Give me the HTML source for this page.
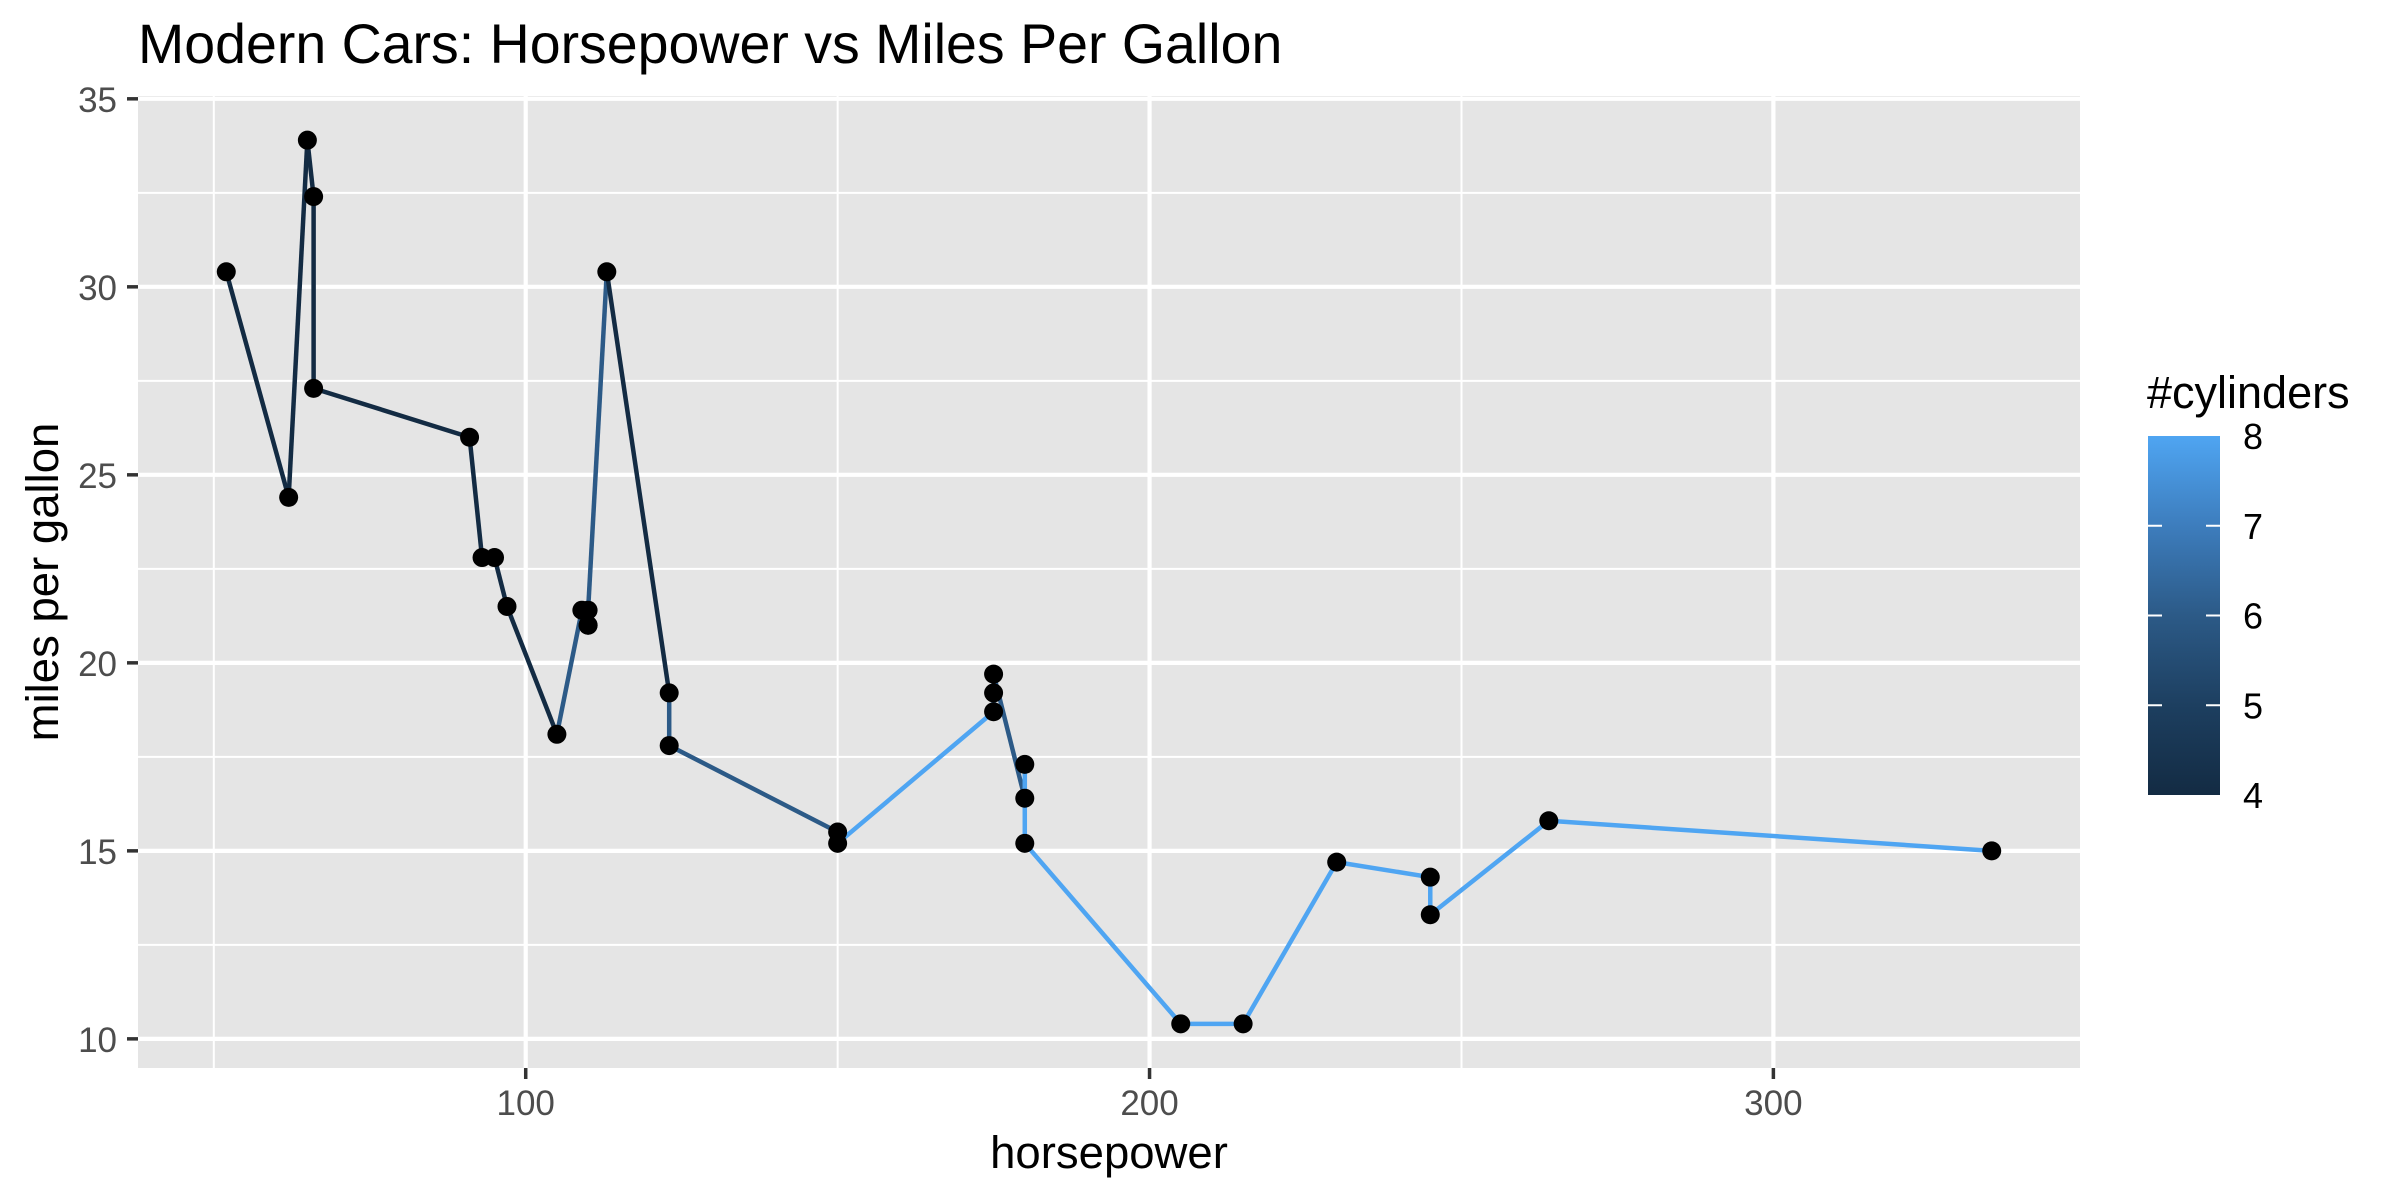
<!DOCTYPE html>
<html><head><meta charset="utf-8"><style>
body{margin:0;background:#fff;}
svg{display:block;font-family:"Liberation Sans",Arial,sans-serif;}
</style></head><body>
<svg id="chart" width="2400" height="1200" viewBox="0 0 2400 1200">
<text x="138" y="63" font-size="55.5" fill="#000">Modern Cars: Horsepower vs Miles Per Gallon</text>
<rect x="138" y="96" width="1942" height="972" fill="#e5e5e5"/>
<g id="grid"></g><g id="axes"></g><g id="lines"></g><g id="points"></g>
<text x="1109" y="1168" font-size="45.5" text-anchor="middle" fill="#000">horsepower</text>
<text transform="translate(58,582) rotate(-90)" font-size="45.5" text-anchor="middle" fill="#000">miles per gallon</text>
<defs><linearGradient id="lg" x1="0" y1="1" x2="0" y2="0">
<stop offset="0" stop-color="#132B43"/><stop offset="0.25" stop-color="#1d3f60"/><stop offset="0.5" stop-color="#2c5a87"/><stop offset="0.75" stop-color="#3d7dbd"/><stop offset="1" stop-color="#4fa5f2"/></linearGradient></defs>
<g>
<text x="2147" y="408" font-size="45" fill="#000">#cylinders</text>
<rect x="2148" y="436" width="72" height="359" fill="url(#lg)"/>
<g id="legend-ticks"></g>
</g>
</svg>
<script>
const hp=[110,110,93,110,175,105,245,62,95,123,123,180,180,180,205,215,230,66,52,65,97,150,150,245,175,66,91,113,264,175,335,109];
const mpg=[21.0,21.0,22.8,21.4,18.7,18.1,14.3,24.4,22.8,19.2,17.8,16.4,17.3,15.2,10.4,10.4,14.7,32.4,30.4,33.9,21.5,15.5,15.2,13.3,19.2,27.3,26.0,30.4,15.8,19.7,15.0,21.4];
const cyl=[6,6,4,6,8,6,8,4,4,6,6,8,8,8,8,8,8,4,4,4,4,8,8,8,8,4,4,4,8,6,8,4];
const xTicks=[100,200,300];
const yTicks=[10,15,20,25,30,35];
const legendTicks=[4,5,6,7,8];
const NS="http://www.w3.org/2000/svg";
const PL=138,PR=2080,PT=96,PB=1068;
const xmin=37.85,xmax=349.15,ymin=9.225,ymax=35.075;
function sx(v){return PL+(v-xmin)/(xmax-xmin)*(PR-PL);}
function sy(v){return PB-(v-ymin)/(ymax-ymin)*(PB-PT);}
const stops=[[4,[19,43,67]],[5,[29,63,96]],[6,[44,90,135]],[7,[61,125,189]],[8,[79,165,242]]];
function col(c){for(let i=0;i<stops.length-1;i++){const a=stops[i],b=stops[i+1];if(c<=b[0]){const t=(c-a[0])/(b[0]-a[0]);const r=a[1].map((v,k)=>Math.round(v+(b[1][k]-v)*t));return `rgb(${r[0]},${r[1]},${r[2]})`;}}return "rgb(79,165,242)";}
function mk(tag,attrs,parent){const e=document.createElementNS(NS,tag);for(const k in attrs)e.setAttribute(k,attrs[k]);parent.appendChild(e);return e;}
const grid=document.getElementById('grid'),axes=document.getElementById('axes');
for(const v of [50,150,250]){const l=mk('line',{x1:sx(v),x2:sx(v),y1:PT,y2:PB,stroke:'#fff','stroke-width':2},grid);

}
for(let i=0;i<yTicks.length-1;i++){const v=(yTicks[i]+yTicks[i+1])/2;const l=mk('line',{x1:PL,x2:PR,y1:sy(v),y2:sy(v),stroke:'#fff','stroke-width':2},grid);

}
for(const v of xTicks){const l=mk('line',{x1:sx(v),x2:sx(v),y1:PT,y2:PB,stroke:'#fff','stroke-width':4.2},grid);


const t=mk('line',{x1:sx(v),x2:sx(v),y1:PB,y2:PB+11,stroke:'#333','stroke-width':3.5},axes);


const tx=mk('text',{x:sx(v),y:1115,'font-size':35,'text-anchor':'middle',fill:'#4d4d4d'},axes);tx.textContent=v;

}
for(const v of yTicks){const l=mk('line',{x1:PL,x2:PR,y1:sy(v),y2:sy(v),stroke:'#fff','stroke-width':4.2},grid);


const t=mk('line',{x1:PL-11,x2:PL,y1:sy(v),y2:sy(v),stroke:'#333','stroke-width':3.5},axes);


const tx=mk('text',{x:117,y:sy(v)+13,'font-size':35,'text-anchor':'end',fill:'#4d4d4d'},axes);tx.textContent=v;

}
const pts=document.getElementById('points');
for(let i=0;i<hp.length;i++){const c=mk('circle',{cx:sx(hp[i]),cy:sy(mpg[i]),r:9.5,fill:'#000'},pts);

}
const idx=hp.map((v,i)=>i).sort((a,b)=>hp[a]-hp[b]||a-b);
const lg=document.getElementById('lines');
for(let k=0;k<idx.length-1;k++){const a=idx[k],b=idx[k+1];
const l=mk('line',{x1:sx(hp[a]),y1:sy(mpg[a]),x2:sx(hp[b]),y2:sy(mpg[b]),stroke:col(cyl[a]),'stroke-width':4.5,'stroke-linecap':'butt'},lg);

}
const lt=document.getElementById('legend-ticks');
for(const v of legendTicks){const y=795-(v-4)/4*359;
if(v>4&&v<8){const a=mk('line',{x1:2148,x2:2162,y1:y,y2:y,stroke:'#fff','stroke-width':2},lt);


const b=mk('line',{x1:2206,x2:2220,y1:y,y2:y,stroke:'#fff','stroke-width':2},lt);

}
const t=mk('text',{x:2243,y:y+13,'font-size':36,fill:'#000'},lt);t.textContent=v;

}
</script>
</body></html>
